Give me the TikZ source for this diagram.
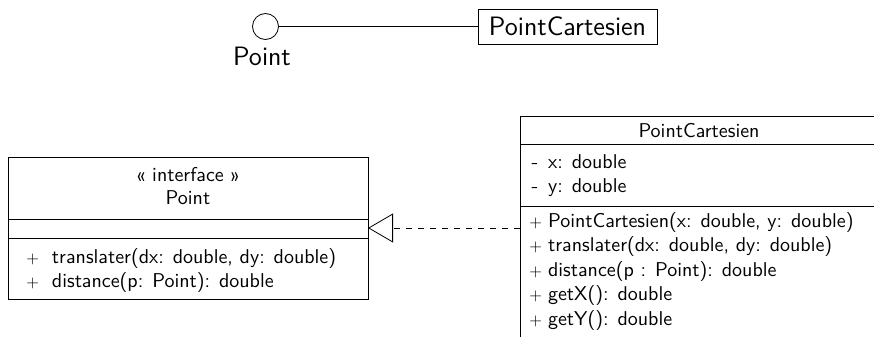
\documentclass[tikz,border=0pt]{standalone}
\usepackage{fontspec}
\usetikzlibrary{arrows.meta}
\newcommand{\pubmark}{\scalebox{0.82}{$+$}}
\begin{document}
\begin{tikzpicture}[x=0.5pt,y=-0.5pt,
  every node/.style={font=\sffamily, inner sep=0pt},
  txt/.style={anchor=base west},
  ctxt/.style={anchor=base},
  big/.style={font=\sffamily\fontsize{13.3}{16}\selectfont},
  umlbox/.style={draw, rectangle, anchor=north west},
  realize/.style={dashed, -{Triangle[open, length=12.5pt, width=14.5pt]}}]
\useasboundingbox (0,0) rectangle (874,337);

% lollipop notation
\node[draw, circle, minimum size=13pt] (ic) at (265.5,26.5) {};
\node[big, ctxt] (icl) at (262,65) {Point};
\node[draw, big, minimum width=89.5pt, minimum height=17.5pt] (pc) at (567.5,26.5) {PointCartesien};
\draw (ic) -- (pc);

% interface box
\node[umlbox, minimum width=180pt, minimum height=71pt] (ibox) at (8,157) {};
\draw (8,219) -- (368,219);
\draw (8,238) -- (368,238);
\node[ctxt] (ist) at (188,181) {« interface »};
\node[ctxt] (iname) at (188,204) {Point};
\node[txt] (im1) at (26,263) {\makebox[12.8pt][l]{\pubmark}translater(dx: double, dy: double)};
\node[txt] (im2) at (26,287) {\makebox[12.8pt][l]{\pubmark}distance(p: Point): double};

% class box
\node[umlbox, minimum width=179pt, minimum height=120pt] (cbox) at (520,116) {};
\draw (520,144) -- (878,144);
\draw (520,206) -- (878,206);
\node[ctxt] (cname) at (699,137) {PointCartesien};
\node[txt] (ca1) at (531.1,168) {\makebox[8.3pt][l]{-}x: double};
\node[txt] (ca2) at (531.1,192.5) {\makebox[8.3pt][l]{-}y: double};
\node[txt] (cm1) at (529,227) {\makebox[9.35pt][l]{\pubmark}PointCartesien(x: double, y: double)};
\node[txt] (cm2) at (529,251.5) {\makebox[9.35pt][l]{\pubmark}translater(dx: double, dy: double)};
\node[txt] (cm3) at (529,276) {\makebox[9.35pt][l]{\pubmark}distance(p : Point): double};
\node[txt] (cm4) at (529,300.5) {\makebox[9.35pt][l]{\pubmark}getX(): double};
\node[txt] (cm5) at (529,325) {\makebox[9.35pt][l]{\pubmark}getY(): double};

% realization
\coordinate (rs) at (520,228);
\coordinate (re) at (368,228);
\draw[realize] (rs) -- (re);
\end{tikzpicture}
\end{document}
